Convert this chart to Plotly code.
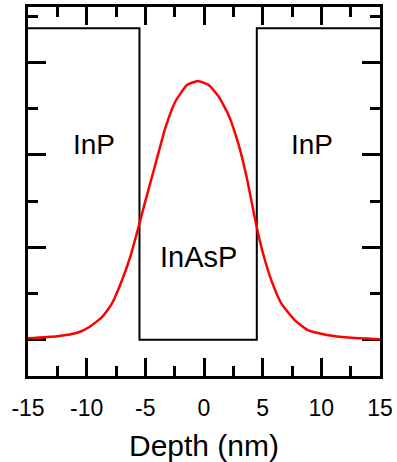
import plotly.graph_objects as go

# Band-edge profile of the InP / InAsP / InP quantum well
profile_x = [-15, -5.5, -5.5, 4.5, 4.5, 15]
profile_y = [6.74, 6.74, 0, 0, 6.74, 6.74]

# Confined-state probability density across the well
depth_nm = [-15, -12.5, -10.8, -9.8, -8.7, -7.85, -7.0, -6.3, -5.6, -5.0, -4.15,
            -3.3, -2.45, -1.45, -0.5, 0.4, 1.25, 2.1, 2.95, 3.65, 4.1, 4.5,
            5.05, 5.75, 6.6, 7.75, 8.9, 10.6, 12.3, 15]
density = [0.03, 0.075, 0.15, 0.27, 0.49, 0.78, 1.28, 1.78, 2.42, 3.0, 3.79,
           4.58, 5.15, 5.51, 5.60, 5.51, 5.26, 4.86, 4.22, 3.50, 2.93, 2.43,
           1.85, 1.28, 0.78, 0.42, 0.20, 0.097, 0.047, 0.01]

# Region labels
region_names = ["InP", "InAsP", "InP"]
region_x = [-9.34, -0.44, 9.24]
region_y = [4.22, 1.8, 4.22]
region_sizes = [28, 29, 28]

x_ticks = [-15, -10, -5, 0, 5, 10, 15]

FONT = "Liberation Sans, Arial, sans-serif"

fig = go.Figure()
fig.add_trace(go.Scatter(x=profile_x, y=profile_y, mode="lines",
                         line=dict(color="black", width=2), hoverinfo="skip"))
fig.add_trace(go.Scatter(x=depth_nm, y=density, mode="lines",
                         line=dict(color="#ff0000", width=2.5, shape="spline",
                                   smoothing=0.5)))

for name, xx, yy, fs in zip(region_names, region_x, region_y, region_sizes):
    fig.add_annotation(x=xx, y=yy, text=name, showarrow=False,
                       font=dict(family=FONT, size=fs, color="black"),
                       xanchor="center", yanchor="middle")

fig.update_layout(
    width=397, height=462,
    margin=dict(l=28, r=15, t=4, b=86),
    paper_bgcolor="white", plot_bgcolor="white",
    showlegend=False,
    font=dict(family=FONT, color="black"),
)
fig.update_xaxes(
    range=[-15, 15], tickvals=x_ticks, ticktext=[str(v) for v in x_ticks],
    ticks="inside", ticklen=18, tickwidth=2.5, tickcolor="black",
    minor=dict(dtick=2.5, tick0=-15, ticks="inside", ticklen=10,
               tickwidth=2.5, tickcolor="black"),
    showline=True, linewidth=3, linecolor="black", mirror="allticks",
    showgrid=False, zeroline=False, layer="below traces",
    ticklabelstandoff=9,
    tickfont=dict(family=FONT, size=23, color="black"),
    title=dict(text="Depth (nm)", font=dict(family=FONT, size=30, color="black"),
               standoff=16),
)
fig.update_yaxes(
    range=[-0.785, 7.2], tick0=0, dtick=2, showticklabels=False,
    ticks="inside", ticklen=18, tickwidth=2.5, tickcolor="black",
    minor=dict(dtick=1, tick0=0, ticks="inside", ticklen=10,
               tickwidth=2.5, tickcolor="black"),
    showline=True, linewidth=3, linecolor="black", mirror="allticks",
    showgrid=False, zeroline=False, layer="below traces",
)

fig.write_html("out.html")
